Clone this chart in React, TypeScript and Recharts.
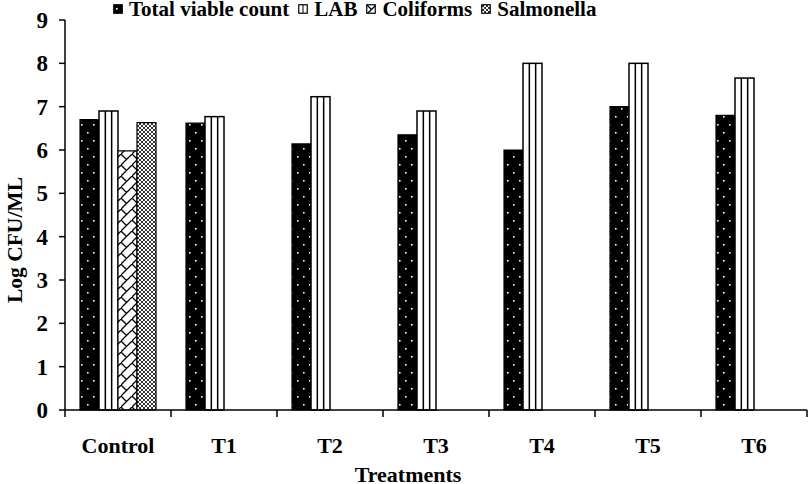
import { Bar, BarChart, Label, XAxis, YAxis } from "recharts";

const treatments = ["Control", "T1", "T2", "T3", "T4", "T5", "T6"];
const totalViableCount = [6.7, 6.62, 6.14, 6.35, 6.0, 7.0, 6.8];
const lab = [6.9, 6.77, 7.23, 6.9, 8.0, 8.0, 7.66];
const coliforms = [5.98, null, null, null, null, null, null];
const salmonella = [6.63, null, null, null, null, null, null];
const yTicks = [0, 1, 2, 3, 4, 5, 6, 7, 8, 9];

const chartData = treatments.map((name, i) => ({
  name,
  tvc: totalViableCount[i],
  lab: lab[i],
  coliforms: coliforms[i],
  salmonella: salmonella[i],
}));

const serif = "'Liberation Serif', 'Times New Roman', serif";

const legendItems = [
  { key: "tvc", label: "Total viable count", fill: "url(#tvcDots)" },
  { key: "lab", label: "LAB", fill: "url(#labLines)" },
  { key: "coliforms", label: "Coliforms", fill: "url(#coliZigzag)" },
  { key: "salmonella", label: "Salmonella", fill: "url(#salmCross)" },
];

// LAB bars: white with two inner vertical rules
function LabBar(props: any) {
  const { x, y, width, height } = props;
  if (!height || height <= 0) return null;
  const step = width / 3;
  return (
    <g>
      <rect x={x} y={y} width={width} height={height} fill="#fff" stroke="#000" strokeWidth={1.5} />
      <line x1={x + step} x2={x + step} y1={y} y2={y + height} stroke="#000" strokeWidth={1.5} />
      <line x1={x + 2 * step} x2={x + 2 * step} y1={y} y2={y + height} stroke="#000" strokeWidth={1.5} />
    </g>
  );
}

// category label plus a tick mark at each band edge
function TreatmentTick(props: any) {
  const { x, y, payload, index, visibleTicksCount } = props;
  const half = payload?.offset ?? 0;
  return (
    <g>
      <line x1={x - half} x2={x - half} y1={y - 8} y2={y - 1} stroke="#000" strokeWidth={1.5} />
      {index === visibleTicksCount - 1 ? (
        <line x1={x + half} x2={x + half} y1={y - 8} y2={y - 1} stroke="#000" strokeWidth={1.5} />
      ) : null}
      <text x={x} y={y + 35} textAnchor="middle" fontFamily={serif} fontWeight="bold" fontSize={22} fill="#000">
        {payload.value}
      </text>
    </g>
  );
}

function Swatch({ fill, kind }: { fill: string; kind: string }) {
  return (
    <svg width={10} height={10} style={{ marginRight: 6, verticalAlign: "middle" }}>
      <rect x={0.75} y={0.75} width={8.5} height={8.5} fill={kind === "lab" ? "#fff" : fill} stroke="#000" strokeWidth={1.2} />
      {kind === "lab" ? <line x1={5} x2={5} y1={1} y2={9} stroke="#000" strokeWidth={1} /> : null}
    </svg>
  );
}

export default function App() {
  return (
    <div style={{ position: "absolute", left: 0, top: 0, width: 808, height: 484, background: "#fff", overflow: "hidden" }}>
      <div
        style={{
          position: "absolute",
          left: 113,
          top: 0,
          display: "flex",
          alignItems: "center",
          fontFamily: serif,
          fontWeight: "bold",
          fontSize: 21,
          lineHeight: "18px",
          whiteSpace: "nowrap",
          zIndex: 2,
        }}
      >
        {legendItems.map((item) => (
          <span key={item.key} style={{ display: "flex", alignItems: "center", marginRight: 9 }}>
            <Swatch fill={item.fill} kind={item.key} />
            {item.label}
          </span>
        ))}
      </div>
      <BarChart
        width={808}
        height={484}
        data={chartData}
        margin={{ top: 20, right: 1, bottom: 0, left: 0 }}
        barCategoryGap={15}
        barGap={0}
      >
        <defs>
          <pattern id="tvcDots" width={12} height={16} patternUnits="userSpaceOnUse">
            <rect width={12} height={16} fill="#000" />
            <rect x={3} y={4} width={1.6} height={1.6} fill="#fff" />
            <rect x={9} y={12} width={1.6} height={1.6} fill="#fff" />
          </pattern>
          <pattern id="labLines" width={6} height={6} patternUnits="userSpaceOnUse">
            <rect width={6} height={6} fill="#fff" />
            <line x1={3} x2={3} y1={0} y2={6} stroke="#000" strokeWidth={1} />
          </pattern>
          <pattern id="coliZigzag" width={11} height={11} patternUnits="userSpaceOnUse">
            <rect width={11} height={11} fill="#fff" />
            <path d="M11 0 L0 11 M0 0 L5.5 5.5" stroke="#000" strokeWidth={1.3} fill="none" />
          </pattern>
          <pattern id="salmCross" width={4} height={4} patternUnits="userSpaceOnUse">
            <rect width={4} height={4} fill="#fff" />
            <path d="M0 0 L4 4 M4 0 L0 4" stroke="#000" strokeWidth={0.8} fill="none" />
          </pattern>
        </defs>
        <XAxis
          dataKey="name"
          height={74}
          axisLine={{ stroke: "#000", strokeWidth: 1.5 }}
          tickLine={false}
          tick={<TreatmentTick />}
          interval={0}
        >
          <Label
            content={() => (
              <text x={408} y={482} textAnchor="middle" fontFamily={serif} fontWeight="bold" fontSize={22} fill="#000">
                Treatments
              </text>
            )}
          />
        </XAxis>
        <YAxis
          width={65}
          domain={[0, 9]}
          ticks={yTicks}
          interval={0}
          axisLine={{ stroke: "#000", strokeWidth: 1.5 }}
          tickLine={{ stroke: "#000", strokeWidth: 1.5 }}
          tickSize={6}
          tickMargin={11}
          tick={{ fill: "#000", fontFamily: serif, fontWeight: "bold", fontSize: 23 }}
        >
          <Label
            content={() => (
              <text
                x={22}
                y={240}
                transform="rotate(-90 22 240)"
                textAnchor="middle"
                fontFamily={serif}
                fontWeight="bold"
                fontSize={21.5}
                fill="#000"
              >
                Log CFU/ML
              </text>
            )}
          />
        </YAxis>
        <Bar dataKey="tvc" fill="url(#tvcDots)" stroke="#000" strokeWidth={1.2} isAnimationActive={false} />
        <Bar dataKey="lab" fill="#fff" shape={<LabBar />} isAnimationActive={false} />
        <Bar dataKey="coliforms" fill="url(#coliZigzag)" stroke="#000" strokeWidth={1.2} isAnimationActive={false} />
        <Bar dataKey="salmonella" fill="url(#salmCross)" stroke="#000" strokeWidth={1.2} isAnimationActive={false} />
      </BarChart>
    </div>
  );
}
